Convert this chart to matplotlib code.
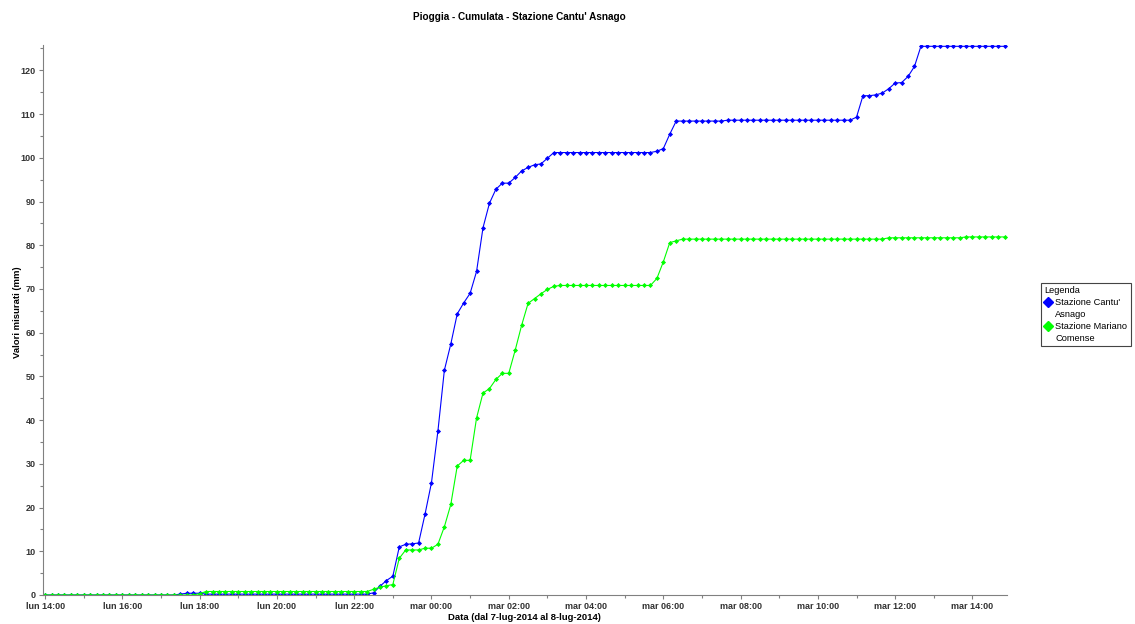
import pandas as pd
import matplotlib
matplotlib.use("Agg")
import matplotlib.pyplot as plt
import matplotlib.dates as mdates
from matplotlib.lines import Line2D
from matplotlib.ticker import MultipleLocator, FuncFormatter

plt.rcParams['font.family'] = ['Liberation Sans', 'DejaVu Sans']

# tempi: ogni 10 minuti da lun 7-lug 14:00 a mar 8-lug 14:50
tempi = pd.date_range("2014-07-07 14:00", "2014-07-08 14:50", freq="10min")

# Stazione Cantu' Asnago (mm cumulati)
cantu = ([0.0] * 21 + [0.2] + [0.4] * 3 + [0.2] * 26 +
         [0.5, 2.0, 3.3, 4.3, 11.0, 11.6, 11.7, 11.9, 18.5, 25.7, 37.5,
          51.4, 57.4, 64.3, 66.8, 69.0, 74.0, 84.0, 89.6, 92.8, 94.2, 94.2,
          95.5, 97.0, 97.8, 98.4, 98.6, 99.9] +
         [101.2] * 16 + [101.5, 102.1, 105.4] + [108.4] * 8 + [108.6] * 20 +
         [109.3, 114.2, 114.2, 114.4, 114.8, 115.8, 117.1, 117.2, 118.6, 120.9] +
         [125.5] * 14)

# Stazione Mariano Comense (mm cumulati)
mariano = ([0.0] * 24 + [0.3] + [0.8] * 26 +
           [1.3, 1.8, 2.1, 2.4, 8.4, 10.3, 10.3, 10.3, 10.7, 10.7, 11.6, 15.6,
            20.7, 29.5, 30.8, 30.8, 40.5, 46.2, 47.2, 49.3, 50.7, 50.7, 56.0,
            61.7, 66.7, 67.8, 68.9, 69.9, 70.6] +
           [70.8] * 15 + [72.4, 76.2, 80.6, 81.0] + [81.4] * 32 +
           [81.7] * 12 + [81.9] * 7)

giorni = ["lun", "mar", "mer", "gio", "ven", "sab", "dom"]

W, H = 1135, 624
fig = plt.figure(figsize=(W / 100, H / 100), dpi=100)
ax = fig.add_axes([42.5 / W, 1 - 595 / H, (1007 - 42.5) / W, (595 - 45) / H])

ax.plot(tempi, cantu, color="#0000ff", lw=0.8, marker="D", ms=2.6, mew=0)
ax.plot(tempi, mariano, color="#00ff00", lw=0.8, marker="D", ms=2.6, mew=0)

ax.set_xlim(pd.Timestamp("2014-07-07 13:56"), pd.Timestamp("2014-07-08 14:53:40"))
ax.set_ylim(0, 125.8)

ax.xaxis.set_major_locator(mdates.HourLocator(byhour=range(0, 24, 2)))
ax.xaxis.set_minor_locator(mdates.HourLocator())
ax.xaxis.set_major_formatter(FuncFormatter(
    lambda v, pos: giorni[mdates.num2date(v).weekday()] + mdates.num2date(v).strftime(" %H:%M")))
ax.yaxis.set_major_locator(MultipleLocator(10))
ax.yaxis.set_minor_locator(MultipleLocator(5))

for s in ["top", "right"]:
    ax.spines[s].set_visible(False)
for s in ["left", "bottom"]:
    ax.spines[s].set_color("#808080")
    ax.spines[s].set_linewidth(0.8)

ax.tick_params(which="both", direction="out", color="#808080", width=0.8)
ax.tick_params(which="major", length=3, pad=2, labelsize=6.5, labelcolor="#333333")
ax.tick_params(which="minor", length=2)
for lab in ax.get_xticklabels() + ax.get_yticklabels():
    lab.set_fontweight("bold")

ax.set_xlabel("Data (dal 7-lug-2014 al 8-lug-2014)", fontsize=6.8, fontweight="bold")
ax.xaxis.set_label_coords(0.5, -0.04)
ax.xaxis.label.set_va("center")
ax.set_ylabel("Valori misurati (mm)", fontsize=6.8, fontweight="bold")
ax.yaxis.set_label_coords(-0.0264, 0.515)
ax.yaxis.label.set_va("center")

fig.text(519.5 / W, 1 - 17 / H, "Pioggia - Cumulata - Stazione Cantu' Asnago",
         ha="center", va="center", fontsize=7.2, fontweight="bold")

vuoto = Line2D([], [], linestyle="none", marker=None)
handles = [Line2D([], [], linestyle="none", marker="D", ms=5, color="#0000ff"), vuoto,
           Line2D([], [], linestyle="none", marker="D", ms=5, color="#00ff00"), vuoto]
labels = ["Stazione Cantu'", "Asnago", "Stazione Mariano", "Comense"]
leg = fig.legend(handles, labels, loc="upper left", bbox_to_anchor=(1041 / W, 1 - 283 / H),
                 title="Legenda", alignment="left", fontsize=6.7, title_fontsize=6.7,
                 frameon=True, fancybox=False, edgecolor="#444444", framealpha=1,
                 borderpad=0.35, labelspacing=0.32, handlelength=0.9, handletextpad=0.3,
                 borderaxespad=0)
leg.get_frame().set_linewidth(0.8)

fig.savefig("out.png", dpi=100)
